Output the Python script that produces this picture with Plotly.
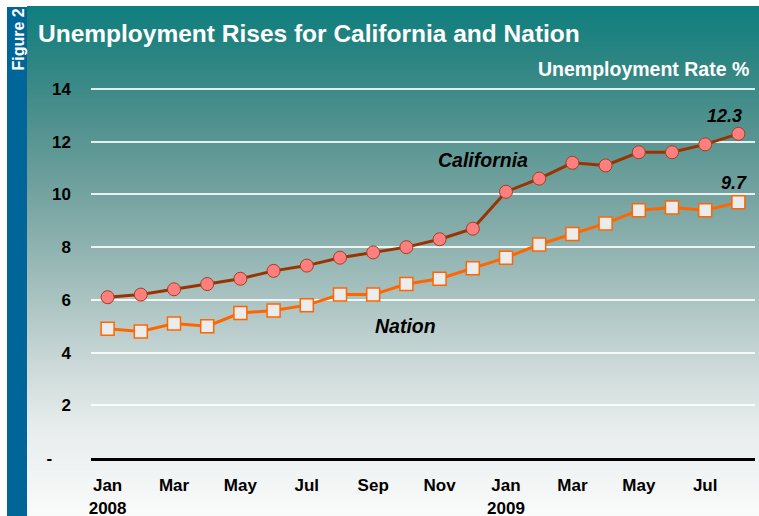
import base64
import struct
import zlib

import plotly.graph_objects as go

# Monthly unemployment rates, Jan 2008 - Aug 2009
months = ["Jan 2008", "Feb 2008", "Mar 2008", "Apr 2008", "May 2008", "Jun 2008",
          "Jul 2008", "Aug 2008", "Sep 2008", "Oct 2008", "Nov 2008", "Dec 2008",
          "Jan 2009", "Feb 2009", "Mar 2009", "Apr 2009", "May 2009", "Jun 2009",
          "Jul 2009", "Aug 2009"]
california = [6.1, 6.2, 6.4, 6.6, 6.8, 7.1, 7.3, 7.6, 7.8, 8.0, 8.3, 8.7,
              10.1, 10.6, 11.2, 11.1, 11.6, 11.6, 11.9, 12.3]
nation = [4.9, 4.8, 5.1, 5.0, 5.5, 5.6, 5.8, 6.2, 6.2, 6.6, 6.8, 7.2,
          7.6, 8.1, 8.5, 8.9, 9.4, 9.5, 9.4, 9.7]

x_tick_labels = ["Jan<br>2008", "Mar", "May", "Jul", "Sep", "Nov",
                 "Jan<br>2009", "Mar", "May", "Jul"]
y_tick_values = [0, 2, 4, 6, 8, 10, 12, 14]
y_tick_labels = ["-\u00a0\u00a0\u00a0\u00a0", "2", "4", "6", "8", "10", "12", "14"]

W, H = 759, 516
x_idx = list(range(len(months)))


def px_x(p):
    return p / W


def px_y(p):
    return 1 - p / H


# Vertical teal-to-white background gradient, encoded as a small PNG
stops = [(0, (14, 126, 125)), (60, (48, 134, 131)), (120, (82, 146, 143)),
         (200, (122, 166, 163)), (280, (163, 191, 189)), (350, (199, 214, 213)),
         (420, (231, 236, 236)), (510, (250, 251, 251))]


def color_at(y):
    for (y0, c0), (y1, c1) in zip(stops, stops[1:]):
        if y0 <= y <= y1:
            t = (y - y0) / (y1 - y0)
            return tuple(round(a + (b - a) * t) for a, b in zip(c0, c1))
    return stops[-1][1]


def gradient_png(w, h):
    raw = b""
    for y in range(h):
        r, g, b = color_at(y)
        raw += b"\x00" + bytes([r, g, b]) * w

    def chunk(tag, data):
        c = struct.pack(">I", len(data)) + tag + data
        return c + struct.pack(">I", zlib.crc32(tag + data) & 0xffffffff)

    png = b"\x89PNG\r\n\x1a\n"
    png += chunk(b"IHDR", struct.pack(">IIBBBBB", w, h, 8, 2, 0, 0, 0))
    png += chunk(b"IDAT", zlib.compress(raw, 9))
    png += chunk(b"IEND", b"")
    return "data:image/png;base64," + base64.b64encode(png).decode()


bg_top, bg_left = 6, 27
grad = gradient_png(4, H - bg_top)

fig = go.Figure()

fig.add_trace(go.Scatter(
    x=x_idx, y=nation, mode="lines+markers", name="Nation",
    line=dict(color="#ff6600", width=3),
    marker=dict(symbol="square", size=13, color="#ececec",
                line=dict(color="#ff6600", width=1.5)),
    cliponaxis=False,
))
fig.add_trace(go.Scatter(
    x=x_idx, y=california, mode="lines+markers", name="California",
    line=dict(color="#993300", width=3),
    marker=dict(symbol="circle", size=13, color="#ff7f7f",
                line=dict(color="#a0401f", width=1)),
    cliponaxis=False,
))

FONT = "Liberation Sans, Arial, sans-serif"

y0_px, y14_px = 458, 89
unit = (y0_px - y14_px) / 14
y_top = 14.2
top_px = y0_px - y_top * unit

fig.update_layout(
    width=W, height=H,
    margin=dict(l=0, r=0, t=0, b=0, pad=0),
    paper_bgcolor="white",
    plot_bgcolor="rgba(0,0,0,0)",
    showlegend=False,
    xaxis=dict(
        domain=[px_x(91), px_x(755)],
        range=[-0.5, 19.5],
        tickvals=x_idx[::2], ticktext=x_tick_labels,
        showgrid=False, zeroline=False,
        showline=True, linecolor="black", linewidth=3,
        ticks="", ticklabelstandoff=10, automargin=False,
        tickfont=dict(family=FONT, size=17, color="black", weight="bold"),
    ),
    yaxis=dict(
        domain=[px_y(y0_px), px_y(top_px)],
        range=[0, y_top],
        tickvals=y_tick_values, ticktext=y_tick_labels,
        showgrid=True, gridcolor="rgba(255,255,255,0.85)", gridwidth=1.5,
        zeroline=False, showline=False,
        ticks="", ticklabelstandoff=19, automargin=False,
        tickfont=dict(family=FONT, size=17, color="black", weight="bold"),
    ),
    images=[dict(
        source=grad, xref="paper", yref="paper",
        x=px_x(bg_left), y=px_y(bg_top),
        sizex=1 - px_x(bg_left), sizey=px_y(bg_top),
        xanchor="left", yanchor="top", sizing="stretch", layer="below",
    )],
    shapes=[dict(
        type="rect", xref="paper", yref="paper",
        x0=px_x(7), x1=px_x(bg_left), y0=0, y1=px_y(7),
        fillcolor="#006699", line=dict(width=0), layer="below",
    )],
)

annotations = [
    dict(text="<b>Unemployment Rises for California and Nation</b>",
         xref="paper", yref="paper", x=px_x(36), y=px_y(33),
         xanchor="left", yanchor="middle", showarrow=False,
         font=dict(family=FONT, size=24.5, color="white")),
    dict(text="<b>Unemployment Rate %</b>",
         xref="paper", yref="paper", x=px_x(751), y=px_y(69),
         xanchor="right", yanchor="middle", showarrow=False,
         font=dict(family=FONT, size=19.5, color="white")),
    dict(text="<b>Figure 2</b>", textangle=-90,
         xref="paper", yref="paper", x=px_x(17.5), y=px_y(40),
         xanchor="center", yanchor="middle", showarrow=False,
         font=dict(family=FONT, size=16, color="white")),
    dict(text="<b><i>California</i></b>", x=11.3, y=11.3,
         xanchor="center", yanchor="middle", showarrow=False,
         font=dict(family=FONT, size=19.5, color="black")),
    dict(text="<b><i>Nation</i></b>", x=8.98, y=5.0,
         xanchor="center", yanchor="middle", showarrow=False,
         font=dict(family=FONT, size=19.5, color="black")),
    dict(text=f"<b><i>{california[-1]}</i></b>", x=x_idx[-1], y=california[-1],
         xanchor="center", yanchor="middle", xshift=-14, yshift=18, showarrow=False,
         font=dict(family=FONT, size=18, color="black")),
    dict(text=f"<b><i>{nation[-1]}</i></b>", x=x_idx[-1], y=nation[-1],
         xanchor="center", yanchor="middle", xshift=-4, yshift=19, showarrow=False,
         font=dict(family=FONT, size=18, color="black")),
]
fig.update_layout(annotations=annotations)

fig.write_html("out.html")
